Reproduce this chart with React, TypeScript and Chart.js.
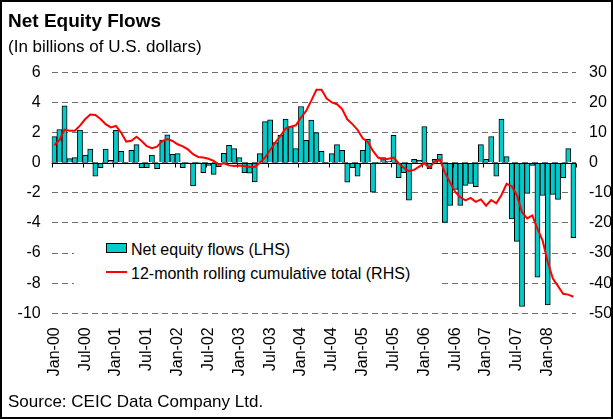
import React, { useEffect, useRef } from "react";
import { Chart, registerables } from "chart.js";

Chart.register(...registerables);

// ---- Data ----
const MONTHS = ["Jan", "Feb", "Mar", "Apr", "May", "Jun", "Jul", "Aug", "Sep", "Oct", "Nov", "Dec"];
const YEARS = ["00", "01", "02", "03", "04", "05", "06", "07", "08"];
const categories: string[] = YEARS.flatMap((y) => MONTHS.map((m) => `${m}-${y}`)).slice(0, 102);

// Net equity flows, billions USD (LHS)
const netEquityFlows = [
  1.73, 2.2, 3.78, 0.27, 0.33, 2.16, 0.5, 0.9, -0.89, -0.33, 0.9, 0.16,
  2.15, 0.75, 0.03, 0.82, 1.2, -0.33, -0.33, 0.5, -0.4, 1.5, 1.85, 0.55,
  0.6, -0.33, 0.03, -1.55, 0.02, -0.67, -0.18, -0.78, -0.27, 0.62, 1.15, 0.93,
  0.33, -0.67, -0.7, -1.27, 0.6, 2.73, 2.84, 1.33, 1.82, 2.89, 2.4, 0.93,
  3.73, 1.49, 2.82, 2.0, 0.76, 0.02, 0.6, 1.2, 0.82, -1.29, -0.33, -0.89,
  0.82, 1.55, -1.96, 0.02, 0.33, 0.1, 1.82, -1.0, -0.67, -2.49, 0.22, 0.18,
  2.4, -0.4, 0.22, 0.55, -3.96, -2.84, -1.78, -2.84, -1.51, -1.38, -1.6, 1.2,
  0.22, 1.73, -0.89, 2.89, 0.4, -3.73, -5.22, -9.55, -2.04, -0.18, -7.6, -2.18,
  -9.44, -2.1, -2.44, -1.0, 0.93, -4.98,
];

// 12-month rolling cumulative total (RHS)
const rollingTotal = [
  5.8, 7.5, 11, 10.6, 10.6, 12.3, 14.4, 16, 15.8, 14.5, 12.8, 11.7,
  12.2, 10, 7, 7.3, 8.6, 7.2, 5.5, 4.8, 5.3, 7.2, 7.8, 7.2,
  6.1, 5.4, 4.4, 2.8, 1.9, 1.7, 1.3, 0.6, -0.6, -0.2, -0.9, -1.1,
  -0.9, -1.1, -1.4, -1.4, 0, 1.7, 4.2, 6.7, 8.9, 11.3, 11.9, 12.4,
  15, 17.2, 20.6, 24.2, 24.2, 21.3, 20, 19.4, 17.8, 14.4, 12.8, 10.9,
  8.1, 6.9, 3.9, 1.7, 1.1, 1.3, 1.7, -0.2, -1.7, -2.8, -2.4, -1.3,
  -0.2, -1.7, 0.4, 1.1, -3.3, -6.6, -9.7, -11.5, -12.5, -11.7, -13, -12.2,
  -14.3, -12.4, -13.5, -10.7, -7, -7.8, -10.8, -16.5, -18.5, -17.5, -22, -25.8,
  -33, -38.5, -41, -43.5, -43.8, -44.5,
];

const leftTicks = [6, 4, 2, 0, -2, -4, -6, -8, -10];
const rightTicks = [30, 20, 10, 0, -10, -20, -30, -40, -50];
const labelEvery = 6;

const FONT = "'Liberation Sans', Arial, Helvetica, sans-serif";

const axisLinePlugin = {
  id: "axisLine",
  afterDatasetDraw(chart: any, args: any) {
    if (args.index !== 0) return;
    const { ctx, chartArea } = chart;
    const xs = chart.scales.x;
    const y0 = Math.round(chart.scales.y.getPixelForValue(0)) + 0.5;
    const step = xs.getPixelForValue(1) - xs.getPixelForValue(0);
    ctx.save();
    ctx.strokeStyle = "#000";
    ctx.lineWidth = 1;
    ctx.beginPath();
    ctx.moveTo(chartArea.left, y0);
    ctx.lineTo(chartArea.right, y0);
    for (let i = 0; i <= categories.length; i += labelEvery) {
      const px = Math.round(xs.getPixelForValue(i) - step / 2) + 0.5;
      ctx.moveTo(px, y0);
      ctx.lineTo(px, y0 + 4);
    }
    ctx.stroke();
    ctx.restore();
  },
};

export default function App() {
  const ref = useRef<HTMLCanvasElement | null>(null);

  useEffect(() => {
    if (!ref.current) return;
    const chart = new Chart(ref.current, {
      type: "bar",
      data: {
        labels: categories,
        datasets: [
          {
            type: "bar",
            label: "Net equity flows (LHS)",
            data: netEquityFlows,
            backgroundColor: "#00CCCC",
            borderColor: "#000000",
            borderWidth: 1,
            barPercentage: 1,
            categoryPercentage: 1,
            yAxisID: "y",
            order: 2,
          },
          {
            type: "line",
            label: "12-month rolling cumulative total (RHS)",
            data: rollingTotal,
            borderColor: "#FF0000",
            borderWidth: 2,
            pointRadius: 0,
            tension: 0,
            fill: false,
            yAxisID: "y1",
            order: 1,
          } as any,
        ],
      },
      options: {
        responsive: false,
        animation: false,
        devicePixelRatio: 1,
        layout: { padding: { top: 72.3, bottom: 35.7, left: 0, right: 0 } },
        plugins: { legend: { display: false }, tooltip: { enabled: false } },
        scales: {
          x: {
            type: "category",
            offset: true,
            grid: { display: false, drawTicks: false },
            border: { display: false },
            ticks: {
              autoSkip: false,
              maxRotation: 90,
              minRotation: 90,
              padding: 14,
              color: "#000",
              font: { family: FONT, size: 16 },
              callback: (_v: any, i: number) => (i % labelEvery === 0 ? categories[i] : ""),
            },
            afterFit: (s: any) => {
              s.height = 70;
            },
          },
          y: {
            position: "left",
            min: -10,
            max: 6,
            afterBuildTicks: (s: any) => {
              s.ticks = leftTicks.map((v) => ({ value: v }));
            },
            grid: { color: "#707070", lineWidth: 1, drawTicks: false },
            border: { display: false, dash: [6, 4] },
            ticks: {
              padding: 11,
              color: "#000",
              font: { family: FONT, size: 16 },
            },
            afterFit: (s: any) => {
              s.width = 51.7;
            },
          },
          y1: {
            position: "right",
            min: -50,
            max: 30,
            afterBuildTicks: (s: any) => {
              s.ticks = rightTicks.map((v) => ({ value: v }));
            },
            grid: { display: false, drawTicks: false },
            border: { display: false },
            ticks: {
              padding: 13,
              color: "#000",
              font: { family: FONT, size: 16 },
            },
            afterFit: (s: any) => {
              s.width = 37;
            },
          },
        },
      },
      plugins: [axisLinePlugin],
    });
    return () => chart.destroy();
  }, []);

  const txt = (extra: React.CSSProperties): React.CSSProperties => ({
    position: "absolute",
    fontFamily: FONT,
    color: "#000",
    whiteSpace: "nowrap",
    ...extra,
  });

  return (
    <div
      style={{
        position: "fixed",
        left: 0,
        top: 0,
        width: 613,
        height: 419,
        background: "#fff",
        overflow: "hidden",
      }}
    >
      <canvas ref={ref} width={613} height={419} style={{ position: "absolute", left: 0, top: 0 }} />
      <div style={txt({ left: 8, top: 11, fontSize: 19, lineHeight: "19px", fontWeight: "bold" })}>
        Net Equity Flows
      </div>
      <div style={txt({ left: 8, top: 37.7, fontSize: 17, lineHeight: "17px" })}>(In billions of U.S. dollars)</div>
      <div
        style={{
          position: "absolute",
          left: 74,
          top: 236,
          width: 364,
          height: 60,
          background: "#fff",
        }}
      >
        <div
          style={{
            position: "absolute",
            left: 32,
            top: 7,
            width: 21,
            height: 10,
            background: "#00CCCC",
            border: "1px solid #000",
            boxSizing: "border-box",
          }}
        />
        <div style={txt({ left: 57, top: 5.7, fontSize: 16, lineHeight: "16px" })}>Net equity flows (LHS)</div>
        <div style={{ position: "absolute", left: 32, top: 35, width: 21, height: 2, background: "#FF0000" }} />
        <div style={txt({ left: 57, top: 30.2, fontSize: 16, lineHeight: "16px" })}>
          12-month rolling cumulative total (RHS)
        </div>
      </div>
      <div style={txt({ left: 8, top: 392.7, fontSize: 17, lineHeight: "17px" })}>Source: CEIC Data Company Ltd.</div>
      <div
        style={{
          position: "absolute",
          left: 0,
          top: 0,
          width: 613,
          height: 419,
          border: "2px solid #000",
          boxSizing: "border-box",
          pointerEvents: "none",
        }}
      />
    </div>
  );
}
